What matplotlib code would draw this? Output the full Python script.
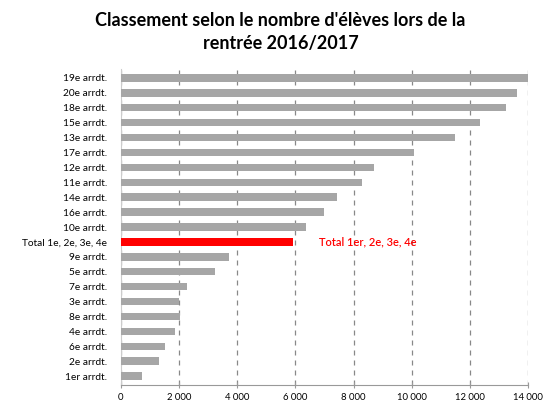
import numpy as np
import matplotlib
matplotlib.use("Agg")
import matplotlib.pyplot as plt
from matplotlib.ticker import FuncFormatter

# Data (top to bottom as in the chart)
labels = ["19e arrdt.", "20e arrdt.", "18e arrdt.", "15e arrdt.", "13e arrdt.",
          "17e arrdt.", "12e arrdt.", "11e arrdt.", "14e arrdt.", "16e arrdt.",
          "10e arrdt.", "Total 1e, 2e, 3e, 4e", "9e arrdt.", "5e arrdt.",
          "7e arrdt.", "3e arrdt.", "8e arrdt.", "4e arrdt.", "6e arrdt.",
          "2e arrdt.", "1er arrdt."]
values = [14000, 13610, 13230, 12350, 11490, 10090, 8700, 8280, 7420, 6970,
          6350, 5920, 3700, 3220, 2260, 2010, 2030, 1860, 1500, 1290, 710]
highlight = "Total 1e, 2e, 3e, 4e"
highlight_text = "Total 1er, 2e, 3e, 4e"
xticks = [0, 2000, 4000, 6000, 8000, 10000, 12000, 14000]

plt.rcParams['font.family'] = ['Lato', 'DejaVu Sans']

fig = plt.figure(figsize=(5.45, 4.03), dpi=100)
ax = fig.add_axes([121/545, 1 - 385/403, (528-121)/545, (385-69)/403])

n = len(labels)
ypos = np.arange(n)[::-1]
colors = ['#ff0000' if l == highlight else '#a6a6a6' for l in labels]
heights = [0.55 if l == highlight else 0.5 for l in labels]
ax.barh(ypos, values, height=heights, color=colors, zorder=3)

ax.set_ylim(-0.6, n - 0.4)
ax.set_xlim(0, 14000)
ax.set_yticks(ypos)
ax.set_yticklabels(labels, fontsize=7.3)
ax.set_xticks(xticks)
ax.xaxis.set_major_formatter(FuncFormatter(lambda v, p: f"{int(v):,}".replace(",", " ")))
ax.tick_params(axis='x', labelsize=6.8, direction='inout', length=5, color='#999999', pad=3)
ax.tick_params(axis='y', length=0, pad=10)

ax.grid(axis='x', linestyle=(0, (4, 4)), color='#888888', linewidth=0.9, zorder=0)
for s in ['top', 'right']:
    ax.spines[s].set_visible(False)
ax.spines['left'].set_color('#cccccc')
ax.spines['bottom'].set_color('#999999')

hi = labels.index(highlight)
ax.text(values[hi] + 900, ypos[hi], highlight_text, color='#ff0000',
        fontsize=8, fontweight='semibold', va='center')

fig.suptitle("Classement selon le nombre d'élèves lors de la\nrentrée 2016/2017",
             fontsize=13, fontweight='bold', x=0.515, y=0.97, linespacing=1.45)

fig.savefig("out.png", dpi=100)
